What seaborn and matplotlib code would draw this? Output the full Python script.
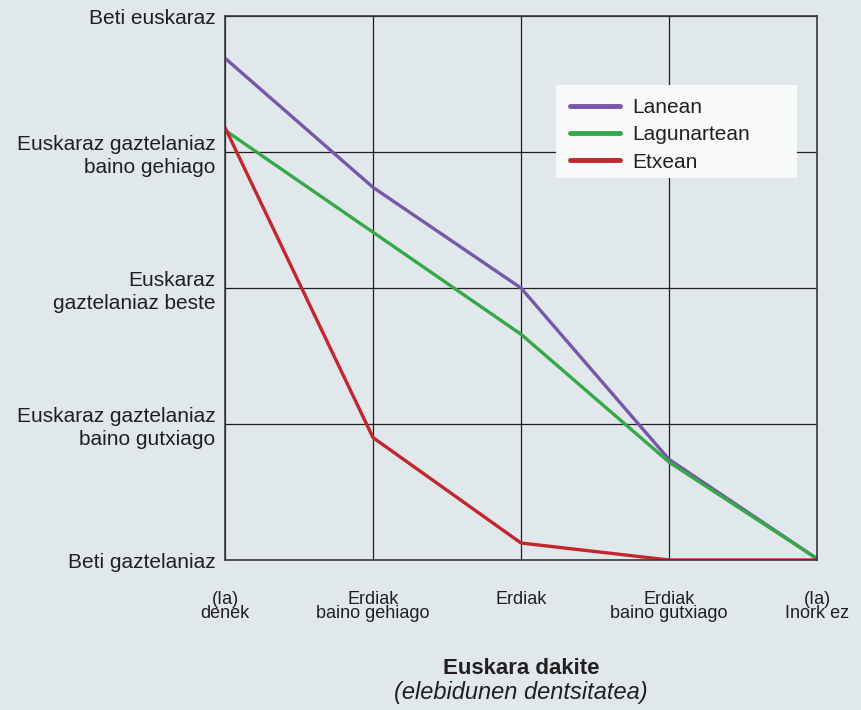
import matplotlib
matplotlib.use("Agg")
import matplotlib.pyplot as plt
from matplotlib.patches import Rectangle
import numpy as np
import pandas as pd
import seaborn as sns

# x categories (density of bilinguals) and y levels (language use)
x_labels = ["(Ia)\ndenek", "Erdiak\nbaino gehiago", "Erdiak", "Erdiak\nbaino gutxiago", "(Ia)\nInork ez"]
y_labels = ["Beti gaztelaniaz", "Euskaraz gaztelaniaz\nbaino gutxiago",
            "Euskaraz\ngaztelaniaz beste", "Euskaraz gaztelaniaz\nbaino gehiago", "Beti euskaraz"]

lanean = [4.69, 3.74, 3.00, 1.74, 1.01]
lagunartean = [4.16, 3.41, 2.66, 1.72, 1.01]
etxean = [4.18, 1.90, 1.125, 1.0, 1.0]

series = {"Lanean": lanean, "Lagunartean": lagunartean, "Etxean": etxean}
colors = {"Lanean": "#7757a8", "Lagunartean": "#35a848", "Etxean": "#c1272d"}

rows = []
for name, vals in series.items():
    for i, v in enumerate(vals):
        rows.append({"x": i, "y": v, "serie": name})
df = pd.DataFrame(rows)

bg = "#e0e8ec"
sns.set_theme(style="white")
plt.rcParams["font.family"] = ["Liberation Sans", "DejaVu Sans"]

fig = plt.figure(figsize=(8.61, 7.10), dpi=100, facecolor=bg)
ax = fig.add_axes([225 / 861, 1 - 560 / 710, 592 / 861, 544 / 710])
ax.set_facecolor(bg)

sns.lineplot(data=df, x="x", y="y", hue="serie", palette=colors,
             hue_order=list(series.keys()), linewidth=2.4, ax=ax)

ax.set_xlim(0, 4)
ax.set_ylim(1, 5)
ax.set_xticks(range(5))
ax.set_xticklabels(x_labels, fontsize=13, linespacing=0.8, color="#231f20")
ax.set_yticks(range(1, 6))
ax.set_yticklabels(y_labels, fontsize=15, linespacing=1.25, color="#231f20")
for lbl in ax.get_yticklabels():
    lbl.set_multialignment("right")
for lbl in ax.get_xticklabels():
    lbl.set_verticalalignment("top")
ax.tick_params(axis="x", length=0, pad=22)
ax.tick_params(axis="y", length=0, pad=7)
ax.set_xlabel("")
ax.set_ylabel("")

ax.grid(True, color="#231f20", linewidth=0.9)
ax.set_axisbelow(True)
for s in ax.spines.values():
    s.set_visible(True)
    s.set_color("#3a3a3a")
    s.set_linewidth(1.2)

# legend box drawn separately (wider than the legend content)
ax.add_patch(Rectangle((331 / 592, 382 / 544), 241 / 592, 93 / 544,
                       transform=ax.transAxes, facecolor="#f7f9fb",
                       edgecolor="none", zorder=3))
leg = ax.legend(loc="upper left", bbox_to_anchor=(0.5725, 0.861), fontsize=15,
                frameon=False, handlelength=2.4, handletextpad=0.6,
                borderpad=0.3, labelspacing=0.4, borderaxespad=0)
leg.set_zorder(5)
for h in leg.get_lines():
    h.set_linewidth(3.5)
for t in leg.get_texts():
    t.set_color("#231f20")

fig.text(521 / 861, 1 - 669 / 710, "Euskara dakite", ha="center", va="center",
         fontsize=16, fontweight="bold", color="#231f20")
fig.text(521 / 861, 1 - 692 / 710, "(elebidunen dentsitatea)", ha="center", va="center",
         fontsize=17, fontstyle="italic", color="#231f20")

fig.savefig("out.png", dpi=100, facecolor=bg)
